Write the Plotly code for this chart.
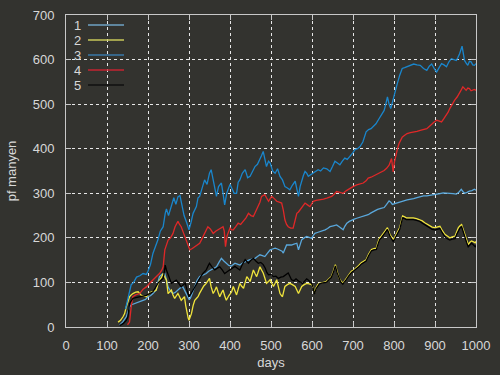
import plotly.graph_objects as go

# ---- data ----
series_names = ["1", "2", "3", "4", "5"]

days1 = [131, 139, 147, 151, 155, 160, 166, 172, 180, 188, 194, 200, 206, 212, 216, 220, 224, 228, 234, 241, 245, 249, 255, 261, 267, 273, 279, 285, 290, 295, 300, 303, 308, 314, 320, 326, 334, 342, 348, 354, 360, 367, 373, 379, 385, 391, 397, 403, 408, 412, 418, 424, 430, 437, 443, 449, 455, 461, 467, 473, 479, 485, 491, 498, 504, 510, 516, 522, 527, 530, 534, 538, 544, 550, 556, 563, 567, 571, 575, 581, 587, 593, 599, 603, 607, 613, 620, 626, 632, 638, 644, 652, 660, 668, 676, 680, 685, 691, 697, 703, 709, 717, 725, 731, 737, 744, 752, 760, 768, 776, 782, 788, 792, 796, 802, 808, 816, 824, 832, 840, 848, 856, 864, 872, 880, 888, 896, 904, 912, 920, 928, 936, 944, 952, 958, 964, 968, 972, 978, 984, 990, 996, 1000]
vals1 = [4, 12, 23, 35, 45, 50, 52, 53, 56, 60, 62, 68, 70, 75, 80, 83, 100, 113, 118, 120, 105, 90, 80, 75, 78, 83, 88, 90, 80, 68, 62, 64, 75, 90, 105, 113, 116, 120, 125, 128, 130, 135, 145, 154, 148, 143, 138, 137, 140, 143, 141, 139, 143, 147, 149, 151, 152, 154, 158, 162, 160, 158, 165, 173, 175, 177, 175, 173, 170, 166, 176, 184, 184, 184, 186, 188, 173, 185, 196, 200, 203, 201, 199, 205, 210, 212, 214, 216, 218, 221, 225, 227, 229, 224, 218, 226, 233, 237, 240, 242, 244, 246, 248, 250, 252, 256, 260, 264, 266, 268, 275, 283, 280, 275, 277, 279, 281, 283, 285, 286, 288, 290, 292, 294, 294, 295, 296, 298, 299, 301, 301, 300, 299, 298, 302, 309, 304, 300, 302, 305, 306, 309, 307]

days2 = [127, 133, 139, 143, 147, 151, 155, 159, 163, 170, 176, 180, 184, 190, 196, 202, 208, 214, 220, 224, 228, 233, 237, 241, 245, 249, 253, 257, 261, 265, 269, 273, 277, 281, 285, 289, 292, 295, 298, 300, 303, 306, 310, 314, 318, 322, 326, 330, 336, 342, 346, 350, 354, 359, 363, 367, 371, 375, 379, 383, 387, 391, 397, 404, 408, 412, 416, 420, 424, 428, 433, 437, 441, 445, 449, 453, 457, 461, 465, 469, 473, 477, 481, 485, 489, 494, 498, 502, 506, 510, 514, 518, 522, 526, 528, 531, 534, 540, 546, 552, 559, 563, 567, 571, 575, 581, 587, 593, 599, 603, 606, 610, 614, 618, 626, 635, 641, 647, 652, 657, 661, 666, 670, 675, 680, 684, 690, 696, 702, 708, 714, 720, 726, 732, 738, 745, 751, 757, 761, 765, 769, 773, 778, 784, 787, 790, 794, 798, 802, 806, 810, 814, 818, 821, 826, 830, 838, 847, 855, 863, 869, 875, 881, 887, 893, 900, 906, 912, 918, 924, 930, 936, 942, 949, 953, 957, 961, 965, 969, 973, 977, 981, 985, 989, 994, 998, 1000]
vals2 = [11, 15, 23, 30, 45, 58, 68, 72, 75, 78, 79, 75, 71, 70, 68, 74, 79, 80, 83, 95, 105, 112, 120, 112, 105, 75, 80, 83, 72, 64, 70, 75, 68, 60, 64, 68, 48, 30, 20, 15, 22, 30, 48, 60, 64, 68, 76, 83, 92, 98, 104, 109, 90, 75, 82, 90, 78, 68, 76, 83, 70, 60, 70, 79, 91, 80, 72, 85, 98, 92, 87, 100, 113, 108, 102, 115, 128, 120, 113, 124, 135, 128, 121, 110, 98, 102, 106, 98, 91, 98, 106, 90, 75, 70, 68, 80, 91, 95, 98, 95, 91, 83, 75, 83, 91, 95, 98, 97, 95, 90, 76, 88, 95, 98, 100, 102, 108, 113, 125, 140, 125, 110, 104, 98, 104, 110, 118, 125, 128, 132, 138, 144, 148, 151, 163, 174, 176, 177, 190, 200, 204, 208, 215, 223, 215, 208, 202, 196, 202, 208, 215, 223, 238, 249, 247, 245, 245, 245, 243, 241, 238, 234, 230, 226, 224, 223, 225, 226, 216, 208, 204, 200, 202, 204, 214, 223, 227, 230, 218, 208, 196, 185, 190, 193, 191, 189, 192]

days3 = [145, 150, 155, 159, 165, 172, 180, 188, 196, 200, 206, 212, 218, 224, 230, 237, 242, 245, 250, 257, 263, 268, 273, 278, 283, 288, 294, 300, 305, 310, 318, 322, 326, 332, 338, 344, 350, 354, 358, 362, 367, 372, 379, 383, 387, 392, 400, 405, 410, 416, 420, 424, 430, 437, 443, 449, 455, 461, 467, 473, 477, 481, 485, 489, 494, 498, 504, 510, 516, 522, 528, 534, 540, 546, 552, 559, 563, 567, 571, 575, 579, 583, 587, 591, 597, 603, 609, 615, 621, 628, 636, 644, 650, 656, 662, 668, 674, 680, 686, 693, 699, 705, 711, 717, 724, 732, 738, 744, 750, 756, 762, 768, 772, 776, 780, 784, 788, 792, 795, 798, 803, 808, 814, 820, 826, 832, 840, 848, 856, 864, 872, 880, 886, 892, 898, 904, 910, 916, 922, 928, 934, 940, 946, 952, 956, 960, 966, 970, 972, 976, 980, 984, 988, 992, 996, 1000]
vals3 = [40, 60, 75, 95, 100, 112, 115, 120, 118, 125, 140, 165, 180, 195, 215, 225, 255, 265, 250, 270, 290, 275, 292, 295, 270, 250, 235, 218, 235, 255, 270, 290, 293, 310, 330, 320, 345, 353, 335, 310, 293, 315, 323, 300, 274, 300, 320, 310, 300, 300, 325, 330, 345, 353, 335, 338, 350, 360, 365, 375, 385, 394, 375, 360, 372, 368, 350, 345, 355, 338, 330, 315, 312, 308, 318, 327, 310, 293, 315, 330, 340, 349, 345, 338, 342, 345, 350, 353, 350, 357, 355, 349, 360, 372, 368, 364, 372, 379, 376, 383, 390, 398, 400, 405, 415, 438, 443, 445, 450, 456, 465, 475, 480, 486, 500, 516, 500, 490, 500, 512, 530, 546, 565, 580, 582, 584, 588, 590, 588, 587, 580, 576, 585, 590, 580, 572, 582, 591, 588, 584, 595, 602, 600, 598, 605, 613, 630, 610, 598, 592, 587, 596, 595, 588, 587, 591]

days4 = [150, 155, 159, 163, 170, 180, 188, 196, 204, 212, 220, 228, 234, 237, 241, 245, 249, 255, 261, 266, 270, 273, 277, 281, 287, 293, 298, 302, 308, 314, 320, 326, 330, 334, 340, 346, 352, 359, 365, 371, 377, 383, 386, 389, 393, 400, 404, 408, 414, 420, 426, 433, 439, 445, 451, 457, 463, 469, 473, 477, 481, 485, 489, 494, 498, 502, 508, 514, 520, 526, 530, 534, 538, 542, 548, 554, 559, 563, 567, 571, 577, 583, 589, 595, 599, 603, 610, 620, 628, 636, 642, 648, 654, 660, 668, 676, 684, 693, 700, 709, 717, 725, 732, 737, 744, 752, 760, 768, 776, 782, 788, 794, 798, 801, 804, 808, 812, 816, 820, 826, 832, 840, 848, 856, 864, 872, 880, 886, 892, 898, 904, 910, 916, 922, 928, 932, 936, 942, 948, 954, 960, 964, 968, 972, 976, 980, 984, 988, 992, 996, 1000]
vals4 = [5, 11, 45, 68, 72, 75, 85, 90, 98, 105, 112, 120, 128, 135, 173, 185, 195, 200, 210, 225, 232, 237, 230, 225, 210, 195, 185, 173, 176, 180, 185, 188, 195, 203, 215, 225, 220, 210, 215, 218, 222, 225, 215, 180, 205, 222, 218, 218, 225, 233, 230, 237, 245, 255, 250, 248, 260, 270, 280, 293, 296, 297, 290, 282, 288, 293, 288, 282, 280, 278, 262, 240, 230, 225, 222, 222, 240, 255, 258, 263, 270, 278, 274, 270, 276, 282, 284, 285, 287, 289, 291, 293, 298, 304, 302, 300, 306, 312, 315, 319, 321, 323, 328, 334, 336, 340, 344, 347, 351, 356, 363, 378, 348, 370, 385, 398, 411, 420, 426, 430, 434, 436, 437, 439, 441, 443, 445, 450, 456, 460, 464, 462, 460, 468, 475, 482, 490, 500, 509, 516, 524, 532, 539, 534, 531, 536, 535, 530, 531, 533, 531]

days5 = [131, 140, 147, 151, 155, 159, 163, 170, 180, 188, 196, 204, 212, 218, 224, 230, 237, 240, 242, 245, 249, 253, 257, 263, 269, 275, 281, 286, 291, 296, 300, 305, 310, 316, 322, 328, 334, 338, 342, 346, 350, 356, 363, 369, 375, 381, 387, 393, 400, 406, 412, 418, 424, 430, 437, 441, 445, 451, 457, 463, 469, 475, 481, 486, 490, 494, 500, 506, 512, 518, 524, 530, 536, 542, 546, 550, 556, 561, 567, 572, 577, 582, 587, 590, 595, 599, 602, 605, 606, 610, 614, 618, 626, 635, 641, 647, 652, 657, 661, 666, 670, 675, 680, 684, 690, 696, 702, 708, 714, 720, 726, 732, 738, 745, 751, 757, 761, 765, 769, 773, 778, 784, 787, 790, 794, 798, 802, 806, 810, 814, 818, 821, 826, 830, 838, 847, 855, 863, 869, 875, 881, 887, 893, 900, 906, 912, 918, 924, 930, 936, 942, 949, 953, 957, 961, 965, 969, 973, 977, 981, 985, 989, 994, 998, 1000]
vals5 = [3, 8, 15, 23, 53, 60, 64, 66, 68, 70, 71, 75, 79, 88, 98, 104, 109, 125, 139, 128, 120, 108, 98, 102, 105, 98, 90, 95, 98, 80, 68, 75, 83, 95, 105, 112, 120, 125, 128, 136, 143, 135, 128, 132, 135, 128, 120, 124, 128, 132, 136, 132, 128, 140, 151, 147, 143, 150, 154, 148, 143, 145, 140, 132, 122, 117, 118, 113, 114, 109, 112, 113, 118, 121, 114, 106, 104, 108, 103, 100, 98, 103, 108, 106, 102, 98, 91, 78, 74, 86, 92, 97, 99, 100, 106, 111, 122, 137, 122, 108, 101, 96, 101, 107, 115, 122, 126, 130, 135, 141, 145, 148, 160, 171, 173, 174, 186, 196, 200, 204, 211, 219, 211, 204, 198, 192, 198, 204, 211, 219, 234, 245, 243, 241, 241, 241, 239, 237, 233, 229, 225, 221, 219, 218, 220, 221, 211, 203, 198, 195, 197, 198, 208, 217, 222, 225, 212, 202, 190, 180, 185, 188, 184, 180, 183]

x_ticks = [0, 100, 200, 300, 400, 500, 600, 700, 800, 900, 1000]
y_ticks = [0, 100, 200, 300, 400, 500, 600, 700]

# ---- style ----
BG = "#33332f"
FG = "#d8d8d8"
colors = ["#5aa8dc", "#f0e43c", "#1a86cc", "#e02828", "#000000"]
legend_colors = ["#6fa3c4", "#c8c85a", "#3a78a8", "#c42432", "#111111"]

xs = [days1, days2, days3, days4, days5]
ys = [vals1, vals2, vals3, vals4, vals5]

fig = go.Figure()
for name, x, y, c in zip(series_names, xs, ys, colors):
    fig.add_trace(go.Scatter(x=x, y=y, mode="lines", name=name,
                             line=dict(color=c, width=1.3), showlegend=False))

W, H = 500, 375
ml, mr, mt, mb = 66, 24, 15, 48
pw, ph = W - ml - mr, H - mt - mb

def px(xp):
    return (xp - ml) / pw

def py(yp):
    return (H - mb - yp) / ph

shapes = [
    # opaque key box hiding grid lines (gnuplot style)
    dict(type="rect", xref="paper", yref="paper", x0=0, x1=px(133),
         y0=py(150), y1=1, fillcolor=BG, line=dict(width=0), layer="between"),
]
annotations = []
for i, (name, c) in enumerate(zip(series_names, legend_colors)):
    yy = 25 + 15 * i
    annotations.append(dict(xref="paper", yref="paper", x=px(82), y=py(yy),
                            text=name, showarrow=False, xanchor="right",
                            yanchor="middle", borderpad=0,
                            font=dict(size=13, color=FG)))
    shapes.append(dict(type="line", xref="paper", yref="paper",
                       x0=px(88), x1=px(124), y0=py(yy), y1=py(yy),
                       line=dict(color=c, width=1.5), layer="above"))

axis_common = dict(showline=True, linecolor="#c8c8c8", linewidth=1,
                   mirror="ticks", ticks="inside", ticklen=5,
                   tickcolor="#c8c8c8", showgrid=True, gridcolor="#e8e8e8",
                   griddash="dot", gridwidth=1, zeroline=False,
                   automargin=False,
                   tickfont=dict(size=13, color=FG))

fig.update_layout(
    width=W, height=H,
    margin=dict(l=ml, r=mr, t=mt, b=mb),
    paper_bgcolor=BG, plot_bgcolor=BG,
    font=dict(family="Liberation Sans, Arial, sans-serif", color=FG, size=13),
    xaxis=dict(range=[0, 1000], tickvals=x_ticks, ticklabelstandoff=6,
               title=dict(text="days", standoff=6, font=dict(size=13, color=FG)),
               **axis_common),
    yaxis=dict(range=[0, 700], tickvals=y_ticks, ticklabelstandoff=8,
               title=dict(text="pf manyen", standoff=13, font=dict(size=13, color=FG)),
               **axis_common),
    shapes=shapes,
    annotations=annotations,
    showlegend=False,
)

fig.write_html("out.html")
